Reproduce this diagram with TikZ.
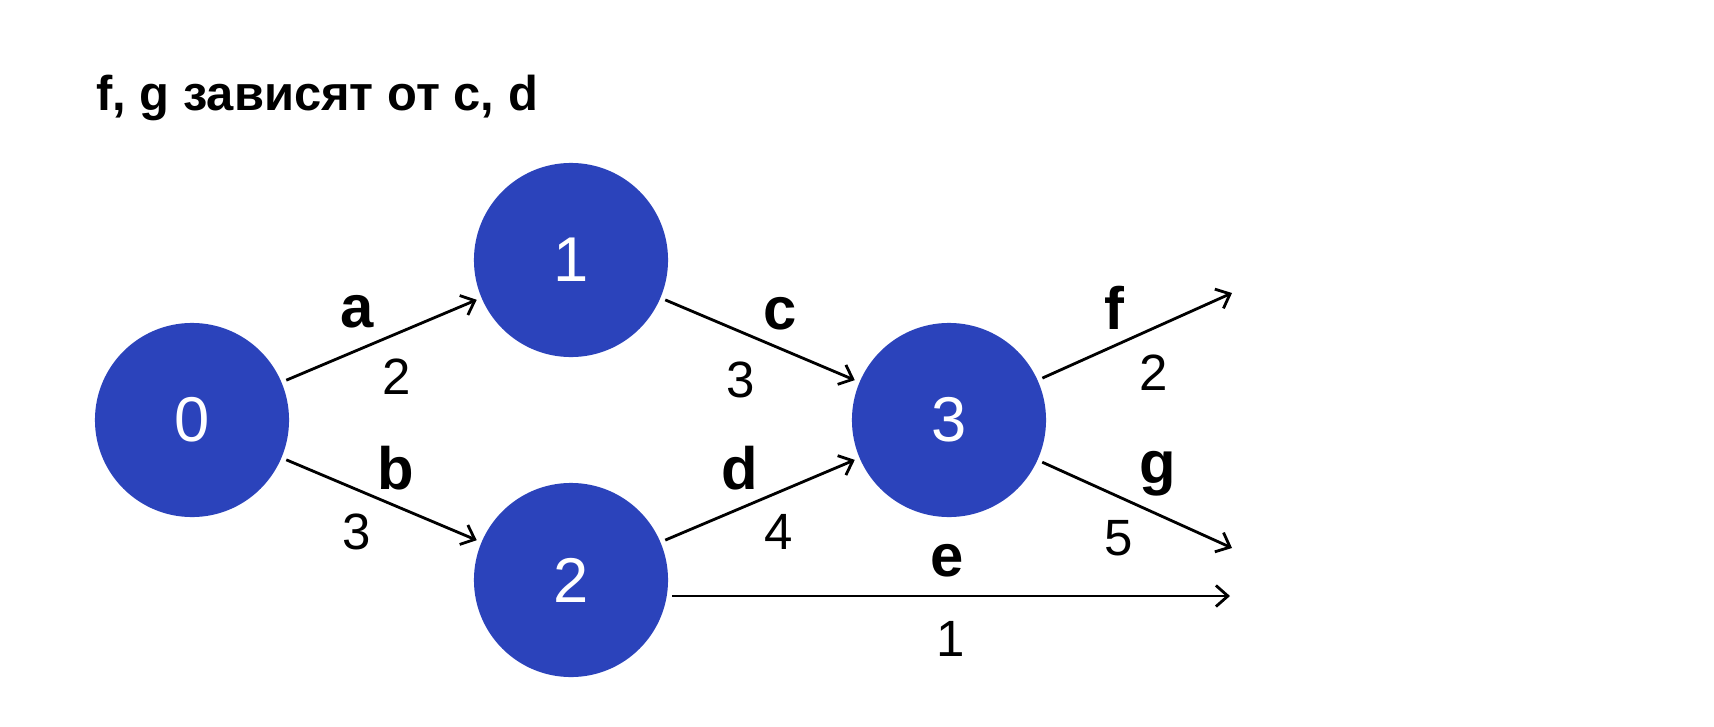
\documentclass[tikz,border=0pt]{standalone}
\usepackage{fontspec}
\setmainfont{Liberation Sans}
\usetikzlibrary{arrows.meta, positioning}
\definecolor{nodeblue}{RGB}{43,67,187}

\begin{document}
\begin{tikzpicture}[x=0.01cm, y=-0.01cm,
        state/.style={circle, fill=nodeblue, text=white, minimum size=1.94cm, inner sep=0pt, outer sep=1.5pt, font=\fontsize{18}{20}\selectfont},
        arrow/.style={-{Straight Barb[length=3.4pt, width=6pt]}, line width=0.8pt},
        lbl/.style={font=\fontsize{17}{19}\selectfont\bfseries},
        cost/.style={font=\fontsize{14.5}{16}\selectfont}
    ]
        \useasboundingbox (0,0) rectangle (1714,727);

        % Title
        \node[anchor=base west, font=\fontsize{13.9}{16}\selectfont\bfseries] (title) at (84,110) {f, g зависят от c, d};

        % States
        \node[state] (s0) at (192,420) {0};
        \node[state] (s1) at (571,260) {1};
        \node[state] (s2) at (571,580) {2};
        \node[state] (s3) at (949,420) {3};

        % Free ends
        \coordinate (fend) at (1232,293);
        \coordinate (gend) at (1232,548);
        \coordinate (eend) at (1230,0);

        % Edges
        \draw[arrow] (s0) -- node[lbl, shift={(-24,-28)}] {a} node[cost, shift={(15,37)}] {2} (s1);
        \draw[arrow] (s0) -- node[lbl, shift={(14,-32)}] {b} node[cost, shift={(-25,32)}] {3} (s2);
        \draw[arrow] (s1) -- node[lbl, shift={(20,-26)}] {c} node[cost, shift={(-19,40)}] {3} (s3);
        \draw[arrow] (s2) -- node[lbl, shift={(-20,-32)}] {d} node[cost, shift={(19,32)}] {4} (s3);
        \draw[arrow] (s3) -- node[lbl, shift={(-23,-28)}] {f} node[cost, shift={(16,37)}] {2} (fend);
        \draw[arrow] (s3) -- node[lbl, shift={(21,-31)}] {g} node[cost, shift={(-18,33)}] {5} (gend);
        \draw[arrow] (s2.-9) -- node[lbl, shift={(-4,-35)}] {e} node[cost, shift={(0,43)}] {1} (s2.-9 -| eend);
    \end{tikzpicture}
\end{document}
